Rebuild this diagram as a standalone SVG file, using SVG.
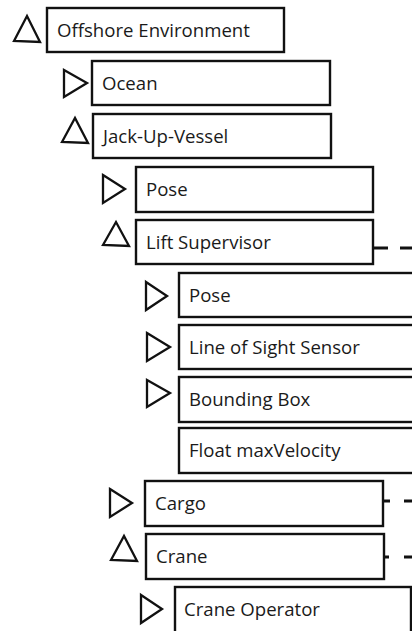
<svg xmlns="http://www.w3.org/2000/svg" width="412" height="631" viewBox="0 0 412 631">
<style>
.box{fill:#fff;stroke:#111;stroke-width:2.4}
.tri{fill:none;stroke:#111;stroke-width:2.3;stroke-linejoin:miter}
.lbl{font-family:"Open Sans","Liberation Sans",sans-serif;font-size:18.6px;fill:#1a1a1a}
.dash{stroke:#111;stroke-width:3;fill:none}
</style>
<rect width="412" height="631" fill="#fff"/>
<g id="n-offshore"><polygon class="tri" points="14,41 27,16 40,42"/><rect class="box" x="47" y="8" width="237" height="44"/><text class="lbl" x="57" y="37">Offshore Environment</text></g>
<g id="n-ocean"><polygon class="tri" points="64,70 87,83 64,97"/><rect class="box" x="92" y="61" width="238" height="44"/><text class="lbl" x="102" y="90">Ocean</text></g>
<g id="n-jackup"><polygon class="tri" points="62,142 75,118 88,143"/><rect class="box" x="93" y="114" width="238" height="44"/><text class="lbl" x="103" y="143">Jack-Up-Vessel</text></g>
<g id="n-pose1"><polygon class="tri" points="103,175 125,189 103,203"/><rect class="box" x="136" y="167" width="237" height="45"/><text class="lbl" x="146" y="196">Pose</text></g>
<g id="n-lift"><polygon class="tri" points="103,245 116,222 129,246"/><rect class="box" x="136" y="220" width="237" height="44"/><text class="lbl" x="146" y="249">Lift Supervisor</text></g>
<g id="n-pose2"><polygon class="tri" points="146,282 167,296 146,310"/><rect class="box" x="179" y="273" width="250" height="44"/><text class="lbl" x="189" y="302">Pose</text></g>
<g id="n-los"><polygon class="tri" points="147,333 170,347 147,361"/><rect class="box" x="179" y="325" width="250" height="44"/><text class="lbl" x="189" y="354">Line of Sight Sensor</text></g>
<g id="n-bbox"><polygon class="tri" points="147,380 170,393 147,407"/><rect class="box" x="179" y="377" width="250" height="45"/><text class="lbl" x="189" y="406">Bounding Box</text></g>
<g id="n-float"><rect class="box" x="179" y="428" width="250" height="45"/><text class="lbl" x="189" y="457">Float maxVelocity</text></g>
<g id="n-cargo"><polygon class="tri" points="110,489 132,503 110,517"/><rect class="box" x="145" y="481" width="238" height="45"/><text class="lbl" x="155" y="510">Cargo</text></g>
<g id="n-crane"><polygon class="tri" points="111,560 124,536 137,561"/><rect class="box" x="146" y="534" width="238" height="45"/><text class="lbl" x="156" y="563">Crane</text></g>
<g id="n-operator"><polygon class="tri" points="141,595 162,609 141,623"/><rect class="box" x="175" y="587" width="236" height="55"/><text class="lbl" x="184" y="616">Crane Operator</text></g>
<g id="connectors">
<path class="dash" d="M373,248H388M400,248H412"/>
<path class="dash" d="M383,501H390M404,501H412"/>
<path class="dash" d="M384,557H389M404,557H412"/>
</g>
</svg>
